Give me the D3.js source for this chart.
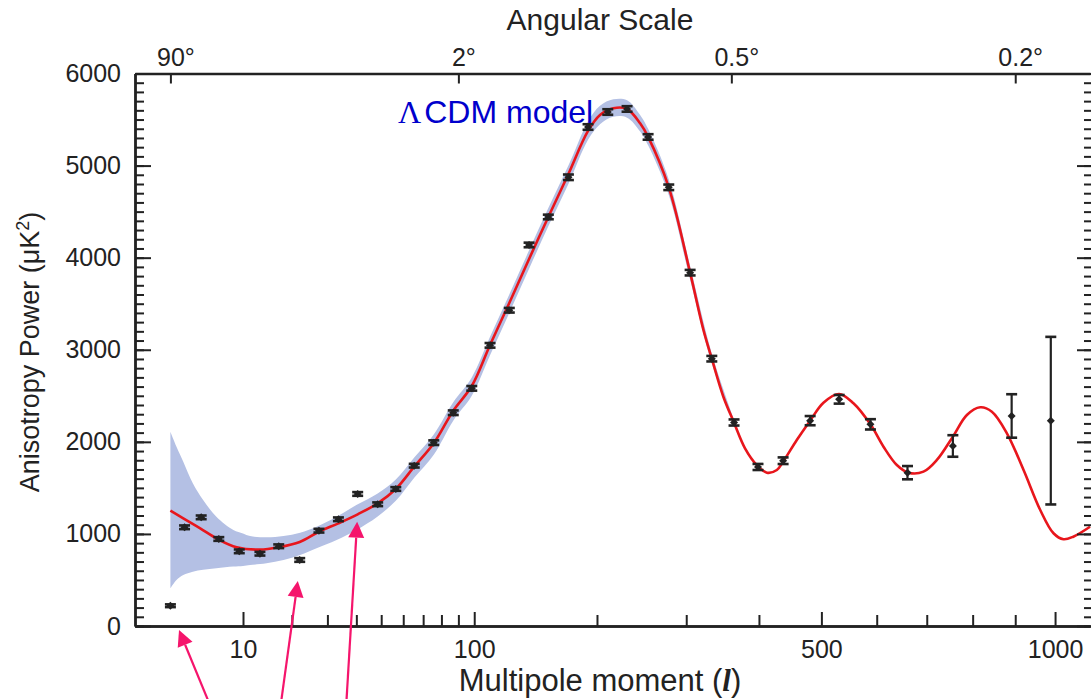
<!DOCTYPE html>
<html>
<head>
<meta charset="utf-8">
<script src="https://cdn.jsdelivr.net/npm/d3@7"></script>
<style>
  html, body { margin: 0; padding: 0; background: #fff; }
  svg { display: block; }
</style>
</head>
<body>
<svg id="chart" width="1091" height="699"></svg>
<script>
// ---------------- data ----------------
// WMAP data points: multipole l, power (uK^2), 1-sigma error
const pointL = [2, 3, 4.5, 6.5, 9.4, 13, 16.9, 22, 27.4, 33.6, 40.5, 48.5, 56.5, 65.4, 75.7, 86.9, 98.4, 110.6, 124.4, 139.6, 155.4, 173, 191.3, 210.8, 231, 254.3, 278.5, 304.9, 333.2, 363.8, 398.6, 437.1, 481, 530.9, 588.1, 660.4, 755.9, 891.3, 989];
const pointPower = [220, 1072, 1180, 945, 811, 785, 866, 717, 1035, 1159, 1434, 1322, 1488, 1741, 1991, 2316, 2581, 3048, 3429, 4138, 4442, 4873, 5419, 5582, 5615, 5311, 4764, 3837, 2903, 2210, 1727, 1795, 2230, 2462, 2190, 1665, 1955, 2281, 2230];
const pointError = [15, 20, 20, 20, 20, 20, 20, 20, 20, 20, 20, 20, 20, 20, 25, 25, 25, 25, 25, 25, 25, 30, 30, 30, 30, 30, 30, 30, 30, 33, 33, 36, 50, 47, 56, 72, 117, 236, 910];

// Lambda-CDM model curve
const modelL = [2, 2.9, 4.4, 6.4, 9, 13, 16.9, 22, 27.4, 33.6, 40.5, 48.5, 56.5, 65.4, 75.7, 86.9, 98.4, 110.6, 124.4, 139.6, 155.4, 173, 191.3, 203, 216.5, 231, 245.3, 254.3, 278.5, 304.9, 322.1, 333.2, 348.9, 363.8, 379.5, 396.8, 411.9, 427.3, 437.1, 459, 481, 503.5, 530.9, 556.6, 588.1, 613, 639.1, 662.4, 693.2, 721.4, 755.9, 787, 817.2, 844.3, 879.9, 920.4, 962, 996, 1022, 1048, 1093];
const modelPower = [1252, 1170, 1061, 942, 855, 829, 855, 912, 1024, 1115, 1213, 1332, 1488, 1730, 1984, 2338, 2606, 3052, 3508, 3986, 4442, 4909, 5376, 5549, 5622, 5615, 5459, 5311, 4764, 3837, 3215, 2903, 2490, 2208, 1930, 1748, 1665, 1694, 1784, 2020, 2230, 2425, 2520, 2419, 2190, 1947, 1748, 1665, 1676, 1803, 2056, 2291, 2375, 2327, 2093, 1694, 1260, 1007, 942, 970, 1078];

// cosmic-variance band
const bandL = [2, 2.4, 2.9, 3.7, 4.7, 6.2, 8.5, 10, 11.2, 14.3, 18, 22.1, 26.7, 33, 40, 48.5, 56.5, 65.4, 75.7, 86.9, 98.4, 110.6, 124.4, 139.6, 155.4, 173, 191.3, 203, 216.5, 231, 245.3, 254.3, 278.5, 304.9, 333.2, 363.8];
const bandHigh = [2110, 1947, 1784, 1550, 1368, 1187, 1043, 1005, 977, 963, 977, 1013, 1078, 1187, 1314, 1440, 1590, 1830, 2080, 2430, 2700, 3140, 3600, 4080, 4540, 5000, 5480, 5650, 5720, 5710, 5550, 5400, 4850, 3910, 2960, 2240];
const bandLow = [409, 500, 554, 590, 610, 627, 645, 652, 662, 681, 717, 771, 844, 934, 1043, 1190, 1360, 1610, 1860, 2230, 2500, 2940, 3400, 3880, 4340, 4800, 5280, 5450, 5530, 5520, 5370, 5220, 4680, 3760, 2850, 2180];

// axes ticks
const yMajorTicks = [0, 1000, 2000, 3000, 4000, 5000, 6000];
const yMinorTicks = d3.range(0, 6001, 100);
const xMajorTicks = [10, 100, 500, 1000];
const xMinorTicks = [20, 30, 40, 50, 60, 70, 80, 90, 200, 300, 400, 600, 700, 800, 900];
const angleTickL = [2, 90, 360, 900];
const angleLabels = ["90", "2", "0.5", "0.2"];

// annotation arrows (tip and tail in data units)
const arrowTipL = [2.58, 21.5, 40.3];
const arrowTipPower = [-43, 489, 1133];
const arrowTailL = [5.68, 17.19, 36.2];
const arrowTailPower = [-912, -912, -912];

// ---------------- drawing ----------------
const svg = d3.select("#chart");
const FONT = "'Liberation Sans', Arial, Helvetica, sans-serif";
const INK = "#222";

const x = d3.scalePow().exponent(0.4).domain([0.468, 1093]).range([135, 1090]);
const y = d3.scaleLinear().domain([0, 6000]).range([626, 73.5]);

// band
const bandData = bandL.map((l, i) => ({l, lo: bandLow[i], hi: bandHigh[i]}));
svg.append("path")
  .datum(bandData)
  .attr("fill", "#b4c0e4")
  .attr("d", d3.area().curve(d3.curveCatmullRom)
    .x(d => x(d.l)).y0(d => y(d.lo)).y1(d => y(d.hi)));

// model curve
const modelData = modelL.map((l, i) => ({l, v: modelPower[i]}));
svg.append("path")
  .datum(modelData)
  .attr("fill", "none")
  .attr("stroke", "#e8161c")
  .attr("stroke-width", 2.6)
  .attr("d", d3.line().curve(d3.curveCatmullRom).x(d => x(d.l)).y(d => y(d.v)));

// axes
function styleAxis(g) {
  g.selectAll(".domain").attr("stroke", INK).attr("stroke-width", 2.4);
  g.selectAll(".tick line").attr("stroke", INK).attr("stroke-width", 2);
  g.selectAll("text").attr("font-family", FONT).attr("font-size", 25).attr("fill", INK);
}
// left
svg.append("g").attr("transform", "translate(135,0)")
  .call(d3.axisLeft(y).tickValues(yMinorTicks).tickSize(-9).tickSizeOuter(0).tickFormat(""))
  .call(styleAxis);
svg.append("g").attr("transform", "translate(135,0)")
  .call(d3.axisLeft(y).tickValues(yMajorTicks).tickSize(-16).tickSizeOuter(0).tickPadding(14).tickFormat(d3.format("d")))
  .call(styleAxis);
// right (axis line sits just at the picture edge)
svg.append("g").attr("transform", "translate(1092,0)")
  .call(d3.axisRight(y).tickValues(yMinorTicks).tickSize(-8).tickSizeOuter(0).tickFormat(""))
  .call(styleAxis);
svg.append("g").attr("transform", "translate(1092,0)")
  .call(d3.axisRight(y).tickValues(yMajorTicks).tickSize(-15).tickSizeOuter(0).tickFormat(""))
  .call(styleAxis);
// bottom
svg.append("g").attr("transform", "translate(0,626)")
  .call(d3.axisBottom(x).tickValues(xMinorTicks).tickSize(-11).tickSizeOuter(0).tickFormat(""))
  .call(styleAxis);
svg.append("g").attr("transform", "translate(0,626)")
  .call(d3.axisBottom(x).tickValues(xMajorTicks).tickSize(-14).tickSizeOuter(0).tickPadding(14).tickFormat(d3.format("d")))
  .call(styleAxis);
// top (angular scale)
const topAxis = svg.append("g").attr("transform", "translate(0,73.5)")
  .call(d3.axisTop(x).tickValues(angleTickL).tickSize(-10).tickSizeOuter(0).tickPadding(8)
    .tickFormat((d, i) => angleLabels[i]))
  .call(styleAxis);
topAxis.selectAll(".tick text").each(function() {
  const t = d3.select(this);
  const w = this.getComputedTextLength();
  t.attr("text-anchor", "start").attr("x", -w / 2);
  t.append("tspan").text("°");
});

// data points with error bars
const pts = pointL.map((l, i) => ({l, v: pointPower[i], e: pointError[i]}));
const pg = svg.append("g").attr("stroke", INK).attr("fill", INK);
pts.forEach(p => {
  const cx = x(p.l), yt = y(p.v + p.e), yb = y(p.v - p.e), cy = y(p.v);
  pg.append("line").attr("x1", cx).attr("x2", cx).attr("y1", yt).attr("y2", yb).attr("stroke-width", 2.2);
  pg.append("line").attr("x1", cx - 5.5).attr("x2", cx + 5.5).attr("y1", yt).attr("y2", yt).attr("stroke-width", 2.6);
  pg.append("line").attr("x1", cx - 5.5).attr("x2", cx + 5.5).attr("y1", yb).attr("y2", yb).attr("stroke-width", 2.6);
  pg.append("path").attr("stroke", "none")
    .attr("d", `M${cx},${cy - 4}L${cx + 4},${cy}L${cx},${cy + 4}L${cx - 4},${cy}Z`);
});

// labels
svg.append("text").attr("x", 600).attr("y", 30).attr("text-anchor", "middle")
  .attr("font-family", FONT).attr("font-size", 30).attr("fill", INK).text("Angular Scale");

const xt = svg.append("text").attr("x", 600).attr("y", 691).attr("text-anchor", "middle")
  .attr("font-family", FONT).attr("font-size", 31).attr("fill", INK);
xt.append("tspan").text("Multipole moment (");
xt.append("tspan").attr("font-family", "'Liberation Serif', 'Times New Roman', serif")
  .attr("font-style", "italic").attr("font-weight", "bold").text("l");
xt.append("tspan").text(")");

const yt = svg.append("text").attr("transform", "translate(39,352) rotate(-90)")
  .attr("text-anchor", "middle").attr("font-family", FONT).attr("font-size", 27).attr("fill", INK);
yt.append("tspan").text("Anisotropy Power (μK");
yt.append("tspan").attr("font-size", 18).attr("dy", -10).text("2");
yt.append("tspan").attr("dy", 10).text(")");

const lt = svg.append("text").attr("x", 398).attr("y", 123).attr("fill", "#0000cc");
lt.append("tspan").attr("font-family", "'Liberation Serif', 'Times New Roman', serif").attr("font-size", 32).text("Λ");
lt.append("tspan").attr("dx", 3).attr("font-family", FONT).attr("font-size", 32).text("CDM model");

// arrows
const arrowColor = "#f5156c";
const ag = svg.append("g");
arrowTipL.forEach((l, i) => {
  const x2 = x(l), y2 = y(arrowTipPower[i]);
  const x1 = x(arrowTailL[i]), y1 = y(arrowTailPower[i]);
  const ang = Math.atan2(y2 - y1, x2 - x1);
  const hl = 16, hw = 8;
  const bx = x2 - hl * Math.cos(ang), by = y2 - hl * Math.sin(ang);
  ag.append("line").attr("x1", x1).attr("y1", y1).attr("x2", bx).attr("y2", by)
    .attr("stroke", arrowColor).attr("stroke-width", 2.2);
  const px = -Math.sin(ang) * hw, py = Math.cos(ang) * hw;
  ag.append("path").attr("fill", arrowColor)
    .attr("d", `M${x2},${y2}L${bx + px},${by + py}L${bx - px},${by - py}Z`);
});
</script>
</body>
</html>
